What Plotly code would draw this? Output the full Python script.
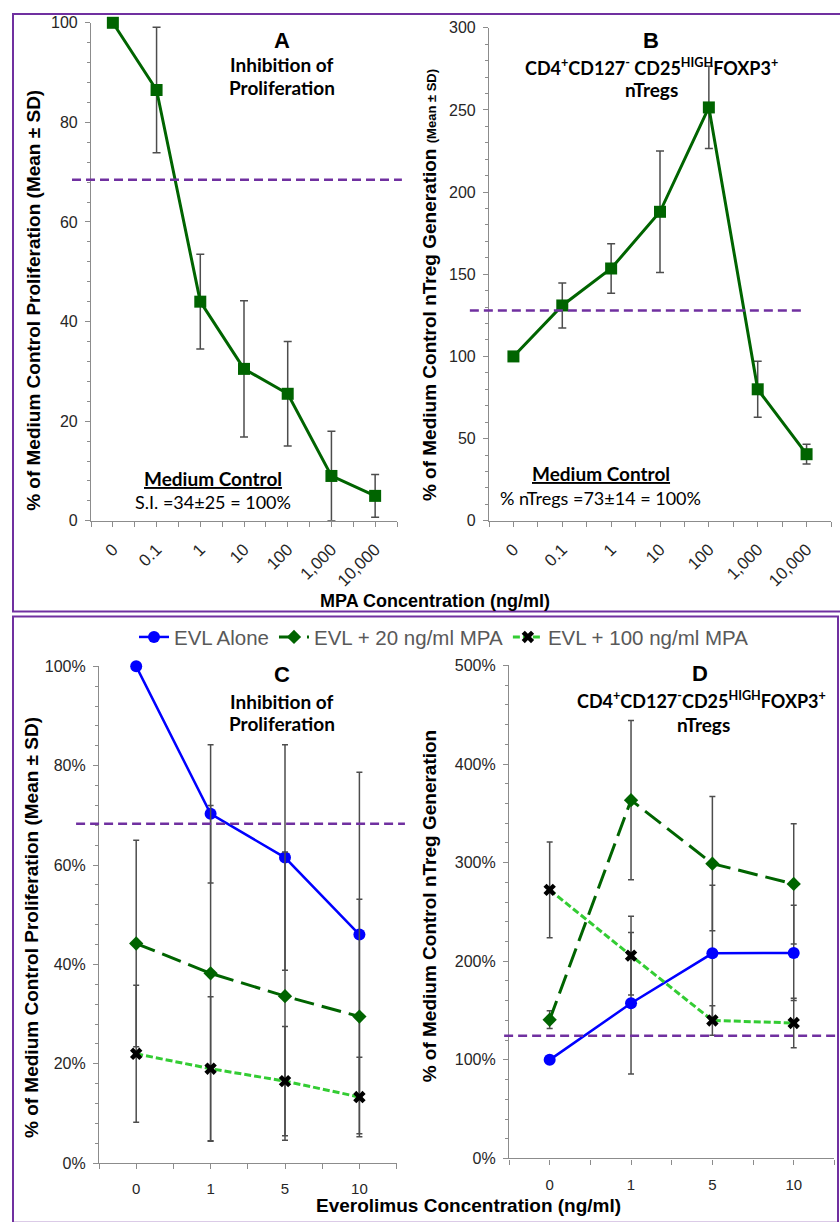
import plotly.graph_objects as go

W, H = 840, 1222

# ---------------- data ----------------
mpa_labels = ["0", "0.1", "1", "10", "100", "1,000", "10,000"]
prolif_mean = [100, 86.5, 44, 30.5, 25.5, 9, 5]
prolif_sd = [0, 12.6, 9.5, 13.7, 10.5, 9, 4.3]
treg_mean = [100, 131, 153.5, 188, 251.5, 80, 40.5]
treg_sd = [0, 13.7, 15, 37, 25, 17, 6]
threshold_a = 68.5
threshold_b = 128

evl_labels = ["0", "1", "5", "10"]
series_names = ["EVL Alone", "EVL + 20 ng/ml MPA", "EVL + 100 ng/ml MPA"]
c_alone = [100, 70.3, 61.5, 46]
c_alone_sd = [0, 13.9, 22.7, 32.7]
c_mpa20 = [44.2, 38.2, 33.6, 29.5]
c_mpa20_sd = [20.8, 33.8, 29, 23.6]
c_mpa100 = [22, 19, 16.5, 13.3]
c_mpa100_sd = [13.8, 14.5, 11, 8]
threshold_c = 68.3

d_alone = [100, 157.4, 208, 208.4]
d_alone_sd = [0, 71.7, 69, 48.3]
d_mpa20 = [140.7, 363.4, 299, 278.4]
d_mpa20_sd = [9, 80.7, 68, 61]
d_mpa100 = [272.4, 205.7, 140, 137.4]
d_mpa100_sd = [48.6, 40, 15, 25]
threshold_d = 124.4

# ---------------- helpers ----------------
def xd(a, b):
    return [a / W, b / W]

def yd(top, bottom):
    return [1 - bottom / H, 1 - top / H]

ARIAL = "Arial, Liberation Sans, sans-serif"
CAL = "Lato, Carlito, sans-serif"
PURPLE = "#7030A0"
DKGREEN = "#006400"
ERRC = "#4d4d4d"
AXC = "#8c8c8c"

xa = list(range(len(mpa_labels)))
xe = list(range(len(evl_labels)))

fig = go.Figure()

def err(arr, w=4):
    return dict(type="data", array=arr, visible=True, color=ERRC, thickness=1.5, width=w)

# Panel A
fig.add_trace(go.Scatter(x=xa, y=prolif_mean, error_y=err(prolif_sd), mode="lines+markers",
                         line=dict(color=DKGREEN, width=3), marker=dict(symbol="square", size=12, color=DKGREEN),
                         xaxis="x", yaxis="y", showlegend=False, cliponaxis=False))
# Panel B
fig.add_trace(go.Scatter(x=xa, y=treg_mean, error_y=err(treg_sd), mode="lines+markers",
                         line=dict(color=DKGREEN, width=3), marker=dict(symbol="square", size=12, color=DKGREEN),
                         xaxis="x2", yaxis="y2", showlegend=False, cliponaxis=False))

styles = [
    dict(line=dict(color="#0000FF", width=2.5), marker=dict(symbol="circle", size=12, color="#0000FF")),
    dict(line=dict(color=DKGREEN, width=3, dash="20px,8px"), marker=dict(symbol="diamond", size=11, color=DKGREEN)),
    dict(line=dict(color="#33CC33", width=3, dash="7px,3px"), marker=dict(symbol="x", size=11, color="black")),
]
c_data = [(c_alone, c_alone_sd), (c_mpa20, c_mpa20_sd), (c_mpa100, c_mpa100_sd)]
d_data = [(d_alone, d_alone_sd), (d_mpa20, d_mpa20_sd), (d_mpa100, d_mpa100_sd)]
for i, (name, st, (m, s)) in enumerate(zip(series_names, styles, c_data)):
    fig.add_trace(go.Scatter(x=xe, y=m, error_y=err(s, 3), mode="lines+markers", name=name,
                             xaxis="x3", yaxis="y3", showlegend=True, cliponaxis=False, legendrank=i, **st))
for i, (name, st, (m, s)) in enumerate(zip(series_names, styles, d_data)):
    fig.add_trace(go.Scatter(x=xe, y=m, error_y=err(s, 3), mode="lines+markers", name=name,
                             xaxis="x4", yaxis="y4", showlegend=False, cliponaxis=False, **st))

def tickfont(size):
    return dict(family=ARIAL, size=size, color="#262626")

def xaxis_cfg(domain, anchor, labels, angle, size, standoff):
    n = len(labels)
    return dict(domain=domain, anchor=anchor, range=[-0.5, n - 0.5], tickmode="array",
                tickvals=list(range(n)), ticktext=labels, tickangle=angle, ticks="outside", ticklen=5,
                tickcolor=AXC, showline=True, linecolor=AXC, linewidth=1.2, showgrid=False, zeroline=False,
                tickfont=tickfont(size), ticklabelstandoff=standoff,
                minor=dict(tickmode="array", tickvals=[i - 0.5 for i in range(n + 1)], ticks="outside",
                           ticklen=5, tickcolor=AXC))

def yaxis_cfg(domain, anchor, rng, dtick, mdtick, suffix=""):
    return dict(domain=domain, anchor=anchor, range=rng, dtick=dtick, ticks="outside", ticklen=5,
                tickcolor=AXC, showline=True, linecolor=AXC, linewidth=1.2, showgrid=False, zeroline=False,
                tickfont=tickfont(16), ticksuffix=suffix, ticklabelstandoff=4,
                minor=dict(dtick=mdtick, ticks="outside", ticklen=3, tickcolor=AXC))

fig.update_layout(
    width=W, height=H, margin=dict(l=0, r=0, t=0, b=0),
    paper_bgcolor="white", plot_bgcolor="white",
    xaxis=xaxis_cfg(xd(91, 397), "y", mpa_labels, -45, 17, 6),
    yaxis=yaxis_cfg(yd(15, 520), "x", [0, 100], 20, 4),
    xaxis2=xaxis_cfg(xd(489, 831), "y2", mpa_labels, -45, 17, 6),
    yaxis2=yaxis_cfg(yd(20, 520), "x2", [0, 300], 50, 10),
    xaxis3=xaxis_cfg(xd(99, 396.6), "y3", evl_labels, 0, 15, 7),
    yaxis3=yaxis_cfg(yd(667.6, 1171.4), "x3", [0, 100], 20, 4, "%"),
    xaxis4=xaxis_cfg(xd(509, 834.4), "y4", evl_labels, 0, 15, 7),
    yaxis4=yaxis_cfg(yd(666.7, 1166.7), "x4", [0, 500], 100, 20, "%"),
    legend=dict(orientation="h", x=444 / W, xanchor="center", y=1 - 638 / H, yanchor="middle",
                font=dict(family=ARIAL, size=20.5, color="#595959"), bgcolor="rgba(0,0,0,0)",
                itemwidth=30, tracegroupgap=0),
)

shapes = []
# panel boxes
shapes.append(dict(type="rect", xref="paper", yref="paper", x0=13 / W, x1=850 / W, y0=1 - 612 / H, y1=1 - 6 / H,
                   line=dict(color=PURPLE, width=2), fillcolor="rgba(0,0,0,0)", layer="above"))
shapes.append(dict(type="rect", xref="paper", yref="paper", x0=13 / W, x1=838 / W, y0=1 - 1232 / H, y1=1 - 617 / H,
                   line=dict(color=PURPLE, width=2), fillcolor="rgba(0,0,0,0)", layer="above"))
# threshold lines
for xr, yr, x0, x1, yv in [("x domain", "y", -0.062, 1.016, threshold_a),
                           ("x2 domain", "y2", -0.056, 0.912, threshold_b),
                           ("x3 domain", "y3", -0.077, 1.028, threshold_c),
                           ("x4 domain", "y4", -0.015, 1.005, threshold_d)]:
    shapes.append(dict(type="line", xref=xr, yref=yr, x0=x0, x1=x1, y0=yv, y1=yv,
                       line=dict(color=PURPLE, width=2.5, dash="9px,5px")))
fig.update_layout(shapes=shapes)

anns = []
def ann(text, x, y, size, family=CAL, color="black", angle=0):
    anns.append(dict(text=text, x=x / W, y=1 - y / H, xref="paper", yref="paper", showarrow=False,
                     font=dict(family=family, size=size, color=color), xanchor="center", yanchor="middle",
                     textangle=angle))

# Panel titles
ann("<b>A</b>", 282, 33, 22, ARIAL)
ann("<b>Inhibition of</b>", 282, 57, 19)
ann("<b>Proliferation</b>", 282, 81, 19)
ann("<b>B</b>", 651, 33, 22, ARIAL)
ann("<b>CD4<sup>+</sup>CD127<sup>-</sup> CD25<sup>HIGH</sup>FOXP3<sup>+</sup></b>", 651, 60, 18)
ann("<b>nTregs</b>", 651, 83, 19)
ann("<b>C</b>", 282, 676, 22, ARIAL)
ann("<b>Inhibition of</b>", 282, 703, 19)
ann("<b>Proliferation</b>", 282, 726, 19)
ann("<b>D</b>", 700, 675, 22, ARIAL)
ann("<b>CD4<sup>+</sup>CD127<sup>-</sup>CD25<sup>HIGH</sup>FOXP3<sup>+</sup></b>", 701, 702, 18)
ann("<b>nTregs</b>", 703, 727, 19)

# Medium control notes
ann("<b><span style='text-decoration:underline'>Medium Control</span></b>", 213, 477, 19)
ann("S.I. =34±25 = 100%", 213, 501, 18)
ann("<b><span style='text-decoration:underline'>Medium Control</span></b>", 601, 472, 19)
ann("% nTregs =73±14 = 100%", 600, 497, 18)

# axis titles
ann("<b>% of Medium Control Proliferation (Mean ± SD)</b>", 34, 297, 19, ARIAL, angle=-90)
ann("<b>% of Medium Control nTreg Generation <span style='font-size:13px'>(Mean ± SD)</span></b>",
    429, 281, 19, ARIAL, angle=-90)
ann("<b>% of Medium Control Proliferation (Mean ± SD)</b>", 31, 933, 19, ARIAL, angle=-90)
ann("<b>% of Medium Control nTreg Generation</b>", 429, 910, 19, ARIAL, angle=-90)
ann("<b>MPA Concentration (ng/ml)</b>", 435, 601, 18, ARIAL)
ann("<b>Everolimus Concentration (ng/ml)</b>", 468, 1214, 19, ARIAL)

fig.update_layout(annotations=anns)

fig.write_html("out.html")
